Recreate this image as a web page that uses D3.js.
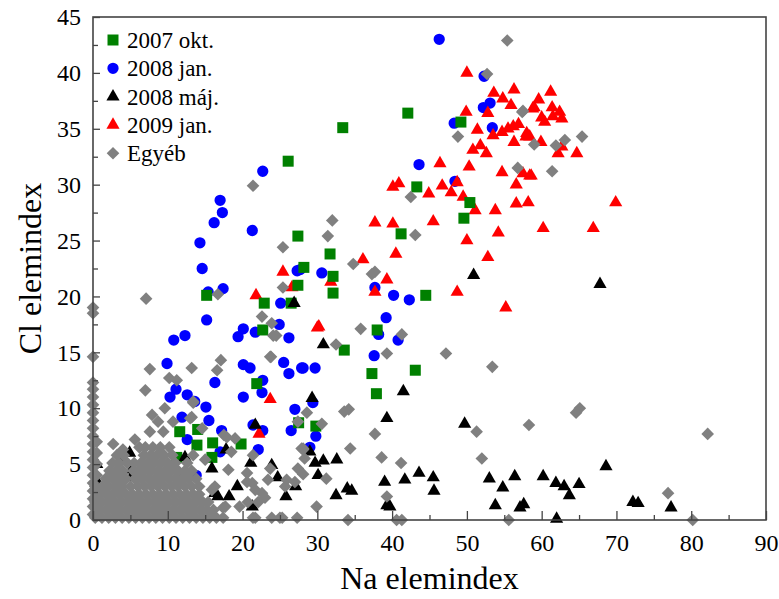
<!DOCTYPE html>
<html>
<head>
<meta charset="utf-8">
<script src="https://cdn.jsdelivr.net/npm/d3@7"></script>
<style>
  body { margin: 0; background: #fff; }
  svg text { font-family: "Liberation Serif", "DejaVu Serif", serif; fill: #000; }
</style>
</head>
<body>
<svg id="chart" width="779" height="599"></svg>
<script>
// ---- data ----
var xTicks = [0, 10, 20, 30, 40, 50, 60, 70, 80, 90];
var yTicks = [0, 5, 10, 15, 20, 25, 30, 35, 40, 45];
var seriesNames = ['2007 okt.', '2008 jan.', '2008 máj.', '2009 jan.', 'Egyéb'];

var okt2007 = [[26.1,32.1],[33.4,35.1],[42.1,36.4],[43.3,29.8],[49.2,35.6],[50.4,28.4],[49.6,27.0],[27.4,25.4],
  [28.2,22.6],[31.7,23.8],[32.1,21.8],[32.1,20.3],[27.4,21.0],[41.2,25.6],[44.5,20.1],[15.2,20.1],[22.9,19.4],
  [26.5,19.4],[22.7,17.0],[38.0,17.0],[33.6,15.2],[37.3,13.1],[43.1,13.4],[37.9,11.3],[21.9,12.2],[27.5,8.7],
  [29.8,8.4],[16.0,6.9],[19.8,6.8],[11.6,7.9],[14.0,8.1],[13.9,6.7],[15.9,5.6],[11.2,5.6]];

var jan2008 = [[46.3,43.0],[52.3,39.7],[52.2,36.9],[53.1,37.3],[48.3,35.5],[53.4,35.1],[43.6,31.8],[48.4,30.3],
  [30.6,22.1],[37.7,20.8],[40.2,20.1],[42.3,19.7],[39.2,18.1],[38.2,16.6],[40.8,16.1],[37.6,14.7],[27.7,22.4],
  [17.0,28.6],[17.3,27.5],[16.2,26.6],[21.3,25.9],[14.3,24.8],[14.6,22.5],[27.3,22.3],[17.4,20.7],[15.4,20.4],
  [25.1,19.4],[15.2,17.9],[24.9,17.5],[20.1,17.1],[21.7,16.8],[19.4,16.4],[26.2,16.3],[12.3,16.5],[10.8,16.1],
  [22.7,31.2],[9.9,14.0],[20.1,13.9],[21.0,13.6],[25.5,14.1],[26.2,13.1],[27.9,13.6],[29.7,13.6],[16.3,12.3],
  [11.1,11.7],[10.3,11.0],[12.6,11.2],[13.6,10.6],[15.1,10.1],[20.1,11.0],[22.6,11.4],[22.7,12.5],[27.0,9.9],
  [26.5,8.0],[11.9,9.2],[15.5,8.9],[17.2,8.0],[21.4,8.5],[22.7,8.0],[22.1,6.3],[12.6,7.2],[29.0,6.5],[17.0,6.1],
  [13.8,4.0],[28.1,13.6],[29.4,10.5],[29.8,7.5]];

var maj2008 = [[26.9,19.4],[50.9,21.9],[30.8,15.7],[67.8,21.1],[29.3,10.9],[41.5,11.5],[39.3,9.1],[49.7,8.6],
  [29.0,6.1],[29.7,5.1],[30.8,5.3],[32.6,5.4],[30.1,4.0],[39.0,3.4],[41.7,3.6],[43.6,4.2],[45.5,3.8],[45.6,2.6],
  [34.0,2.8],[34.6,2.6],[32.5,2.2],[39.3,1.3],[53.0,3.7],[54.8,2.9],[56.4,3.9],[53.8,1.3],[57.1,1.1],[57.6,1.4],
  [60.2,3.9],[61.9,3.3],[63.0,3.0],[63.7,2.2],[65.0,3.2],[68.6,4.8],[72.2,1.6],[72.9,1.5],[77.3,1.1],[62.0,0.1],
  [21.7,8.5],[4.9,6.0],[21.1,5.1],[24.7,3.8],[5.1,3.8],[12.3,5.6],[12.0,4.0],[17.8,6.3],[19.3,3.0],[18.2,2.1],
  [21.3,1.2],[25.8,2.1],[27.1,3.0],[16.3,2.4],[3.9,5.4],[5.2,4.5],[23.9,4.9],[16.7,2.1],[15.9,4.6],[39.7,1.2],
  [0.5,3.5],[0.5,5.0]];

var jan2009 = [[50.0,40.0],[53.6,38.2],[56.3,38.5],[54.8,37.7],[55.9,37.1],[58.8,36.8],[49.9,36.5],[52.8,36.4],
  [51.4,34.9],[53.5,34.4],[54.7,34.7],[55.5,35.0],[56.2,35.2],[56.9,35.4],[56.3,33.8],[58.0,34.6],[58.4,34.3],
  [51.8,33.5],[50.8,33.1],[52.6,32.8],[46.4,31.9],[50.3,31.6],[54.7,31.1],[57.5,31.0],[58.4,30.8],[56.6,30.0],
  [48.7,30.2],[46.7,29.9],[40.9,30.1],[40.1,29.8],[61.2,38.3],[59.6,37.6],[59.0,36.9],[61.4,36.9],[62.4,36.5],
  [60.0,36.0],[61.5,36.1],[60.4,35.6],[62.7,35.9],[57.9,34.3],[59.9,33.8],[62.7,33.4],[62.2,32.8],[64.7,32.8],
  [58.6,30.8],[44.9,29.2],[47.9,29.3],[49.5,28.9],[51.1,27.7],[53.8,27.7],[56.6,28.3],[58.2,28.4],[54.2,25.7],
  [50.0,25.0],[52.8,23.5],[45.5,26.7],[37.7,26.6],[40.1,26.5],[40.5,23.8],[36.1,23.3],[39.3,21.5],[31.8,21.3],
  [37.7,20.4],[48.7,20.4],[55.2,19.0],[30.2,17.3],[69.9,28.4],[60.2,26.1],[66.9,26.1],[25.4,22.2],[26.6,20.8],
  [21.8,20.1],[30.0,17.2],[23.7,10.8],[22.2,7.7]];

var egyeb = [[21.4,29.9],[55.4,42.9],[52.7,39.9],[57.4,36.5],[48.8,34.3],[59.0,33.6],[56.8,31.5],[57.5,36.6],
  [61.9,33.5],[63.1,34.0],[65.4,34.3],[61.4,31.2],[25.4,24.4],[25.4,20.8],[16.7,20.2],[7.1,19.8],[0,19.0],[0,18.5],
  [22.6,18.2],[23.9,17.6],[24.1,16.5],[24.5,16.5],[23.8,14.6],[17.1,14.3],[0,14.6],[42.5,28.9],[32.0,26.8],
  [31.4,25.4],[43.1,25.5],[34.8,22.9],[37.7,22.2],[35.8,17.1],[41.3,16.6],[32.5,15.7],[39.3,14.9],[47.2,14.9],
  [53.4,13.7],[28.6,9.6],[33.6,9.7],[30.6,8.6],[37.7,7.7],[51.3,7.9],[58.3,8.5],[28.1,6.4],[34.4,6.4],[28.3,5.5],
  [38.6,5.6],[41.2,5.1],[52.0,5.5],[28.1,4.1],[31.2,3.7],[39.3,2.1],[29.9,1.2],[34.1,0],[40.6,0],[41.3,0],[55.6,0],
  [64.6,9.6],[65.1,10.0],[82.2,7.7],[76.9,2.4],[80.2,0],
  [23.7,14.6],[7.6,13.5],[13.2,13.6],[16.6,13.4],[10.2,12.7],[11.2,12.5],[7.0,11.6],[13.4,10.6],[9.6,10.0],
  [7.9,9.4],[8.7,8.8],[10.7,8.8],[13.0,9.1],[7.6,7.9],[9.4,7.9],[2.7,6.8],[5.6,7.2],[4.0,6.3],[7.0,6.5],
  [17.9,7.4],[18.5,6.1],[21.4,5.8],[23.7,4.6],[25.9,3.6],[27.4,4.6],[28.1,6.3],[20.6,3.4],[22.6,2.4],[16.3,3.0],
  [17.4,1.1],[19.6,1.2],[22.1,1.6],[25.0,0.2],[23.9,0.2],[21.4,0.2],[27.3,0.2],
  [13.4,10.5],[13.2,9.2],[14.6,8.2],[17.5,7.6],[19.0,7.3],[27.4,8.8],[15.0,5.4],[18.1,4.5],[23.4,3.6],[20.6,4.2],
  [21.3,3.3],[21.7,2.7],[23.0,2.0],[25.7,3.0],[27.0,3.4],[27.9,6.4],[20.7,1.6],[25.3,0.2],[21.7,0.2],[17.7,1.2],
  [15.9,2.7],[34.2,9.9],[37.3,22.0],
  // dense cluster near the origin
  [0.3,0.2],[1.2,0.2],[2.1,0.2],[3.0,0.2],[3.9,0.2],[4.8,0.2],[5.7,0.2],[6.6,0.2],[7.5,0.2],[8.4,0.2],[9.3,0.2],
  [10.2,0.2],[11.1,0.2],[12.0,0.2],[12.9,0.2],[13.8,0.2],[14.7,0.2],[15.6,0.2],[16.5,0.2],[17.4,0.2],
  [0.8,0.9],[1.7,0.9],[2.6,0.9],[3.5,0.9],[4.4,0.9],[5.3,0.9],[6.2,0.9],[7.1,0.9],[8.0,0.9],[8.9,0.9],[9.8,0.9],
  [10.7,0.9],[11.6,0.9],[12.5,0.9],[13.4,0.9],[14.3,0.9],[15.2,0.9],[16.1,0.9],
  [0.3,1.6],[1.2,1.6],[2.1,1.6],[3.0,1.6],[3.9,1.6],[4.8,1.6],[5.7,1.6],[6.6,1.6],[7.5,1.6],[8.4,1.6],[9.3,1.6],
  [10.2,1.6],[11.1,1.6],[12.0,1.6],[12.9,1.6],[13.8,1.6],[14.7,1.6],[15.4,1.6],
  [0.8,2.3],[1.7,2.3],[2.6,2.3],[3.5,2.3],[4.4,2.3],[5.3,2.3],[6.2,2.3],[7.1,2.3],[8.0,2.3],[8.9,2.3],[9.8,2.3],
  [10.7,2.3],[11.6,2.3],[12.5,2.3],[13.4,2.3],[14.2,2.3],
  [0.3,3.0],[1.2,3.0],[2.1,3.0],[3.0,3.0],[3.9,3.0],[5.0,3.0],[6.0,3.0],[6.9,3.0],[7.8,3.0],[8.7,3.0],[9.6,3.0],
  [10.5,3.0],[11.4,3.0],[12.3,3.0],[13.2,3.0],[14.2,3.0],
  [1.7,3.7],[2.6,3.7],[3.5,3.7],[4.4,3.7],[5.6,3.7],[6.5,3.7],[7.4,3.7],[8.3,3.7],[9.2,3.7],[10.1,3.7],[11.0,3.7],
  [11.9,3.7],[12.8,3.7],[13.8,3.7],
  [2.2,4.4],[3.1,4.4],[4.0,4.4],[5.4,4.4],[6.0,4.4],[6.9,4.4],[7.8,4.4],[8.7,4.4],[9.6,4.4],[10.5,4.4],[11.4,4.4],
  [12.3,4.4],[13.2,4.4],
  [2.6,5.1],[3.5,5.1],[4.6,5.1],[5.5,5.1],[6.4,5.1],[7.3,5.1],[8.2,5.1],[9.1,5.1],[10.0,5.1],[11.0,5.1],[12.6,5.1],
  [3.2,5.8],[4.1,5.8],[6.8,5.8],[7.7,5.8],[8.6,5.8],[9.5,5.8],[10.6,5.8],[13.4,5.8],
  [6.2,6.5],[8.0,6.5],[9.0,6.5],[10.2,6.5],
  [0,0.5],[0,1.2],[0,1.9],[0,2.6],[0,3.3],[0,4.0],[0,4.7],[0,5.4],[0,6.1],[0,6.8],[0,7.5],[0,8.2],[0,8.9],
  [0,9.6],[0,10.3],[0,11.0],[0,11.7],[0,12.3],[0.5,4.0],[0.5,5.0],[0.5,6.0],[0.5,7.0]];

// ---- layout ----
var svg = d3.select('#chart');
var plotLeft = 93, plotRight = 766, plotTop = 17, plotBottom = 520;
var axisColor = '#444';

var x = d3.scaleLinear().domain([0, 90]).range([plotLeft, plotRight]);
var y = d3.scaleLinear().domain([0, 45]).range([plotBottom, plotTop]);

var styles = {
  '2007 okt.':  { color: '#008000', sym: d3.symbolSquare, size: 121, rot: 0 },
  '2008 jan.':  { color: '#0000ff', sym: d3.symbolCircle, size: 100, rot: 0 },
  '2008 máj.':  { color: '#000000', sym: d3.symbolTriangle, size: 75, rot: 0 },
  '2009 jan.':  { color: '#ff0000', sym: d3.symbolTriangle, size: 75, rot: 0 },
  'Egyéb':      { color: '#808080', sym: d3.symbolSquare, size: 80, rot: 45 }
};
var dataByName = {
  '2007 okt.': okt2007, '2008 jan.': jan2008, '2008 máj.': maj2008, '2009 jan.': jan2009, 'Egyéb': egyeb
};
// drawing order as seen in the picture (grey on top)
var drawOrder = ['2008 jan.', '2009 jan.', '2007 okt.', '2008 máj.', 'Egyéb'];

var plot = svg.append('g');
drawOrder.forEach(function (name) {
  var st = styles[name];
  plot.append('g').selectAll('path')
    .data(dataByName[name])
    .enter().append('path')
    .attr('d', d3.symbol().type(st.sym).size(st.size))
    .attr('fill', st.color)
    .attr('transform', function (d) {
      return 'translate(' + x(d[0]) + ',' + y(d[1]) + ') rotate(' + st.rot + ')';
    });
});

// ---- axes ----
var xMinor = d3.range(0, 91, 5), yMinor = d3.range(0, 45.1, 2.5);

var gx = svg.append('g').attr('transform', 'translate(0,' + plotBottom + ')')
  .call(d3.axisBottom(x).tickValues(xMinor).tickSize(0).tickFormat(''));
gx.select('.domain').remove();
gx.selectAll('.tick line')
  .attr('y2', function (d) { return d % 10 === 0 ? -9 : -5; })
  .attr('stroke', axisColor).attr('stroke-width', 1.3);
svg.append('g').attr('transform', 'translate(0,' + plotBottom + ')')
  .call(d3.axisBottom(x).tickValues(xTicks).tickSize(0).tickPadding(14))
  .call(function (g) { g.select('.domain').remove(); })
  .selectAll('text').style('font-size', '24px').attr('font-family', null);

var gy = svg.append('g').attr('transform', 'translate(' + plotLeft + ',0)')
  .call(d3.axisLeft(y).tickValues(yMinor).tickSize(0).tickFormat(''));
gy.select('.domain').remove();
gy.selectAll('.tick line')
  .attr('x2', function (d) { return d % 5 === 0 ? 7 : 5; })
  .attr('stroke', axisColor).attr('stroke-width', 1.3);
svg.append('g').attr('transform', 'translate(' + plotLeft + ',0)')
  .call(d3.axisLeft(y).tickValues(yTicks).tickSize(0).tickPadding(12))
  .call(function (g) { g.select('.domain').remove(); })
  .selectAll('text').style('font-size', '24px').attr('font-family', null);

// frame
svg.append('rect')
  .attr('x', plotLeft).attr('y', plotTop)
  .attr('width', plotRight - plotLeft).attr('height', plotBottom - plotTop)
  .attr('fill', 'none').attr('stroke', axisColor).attr('stroke-width', 1.6);

// axis titles
svg.append('text')
  .attr('x', (plotLeft + plotRight) / 2).attr('y', 589)
  .attr('text-anchor', 'middle').style('font-size', '32px')
  .text('Na elemindex');
svg.append('text')
  .attr('transform', 'translate(41,' + ((plotTop + plotBottom) / 2) + ') rotate(-90)')
  .attr('text-anchor', 'middle').style('font-size', '32px')
  .text('Cl elemindex');

// ---- legend ----
var legend = svg.append('g').attr('transform', 'translate(113,40)');
var row = legend.selectAll('g').data(seriesNames).enter().append('g')
  .attr('transform', function (d, i) { return 'translate(0,' + (i * 28.3) + ')'; });
row.append('path')
  .attr('d', function (d) { return d3.symbol().type(styles[d].sym).size(styles[d].size)(); })
  .attr('fill', function (d) { return styles[d].color; })
  .attr('transform', function (d) { return 'rotate(' + styles[d].rot + ')'; });
row.append('text')
  .attr('x', 14).attr('y', 8)
  .style('font-size', '23px')
  .text(function (d) { return d; });
</script>
</body>
</html>
